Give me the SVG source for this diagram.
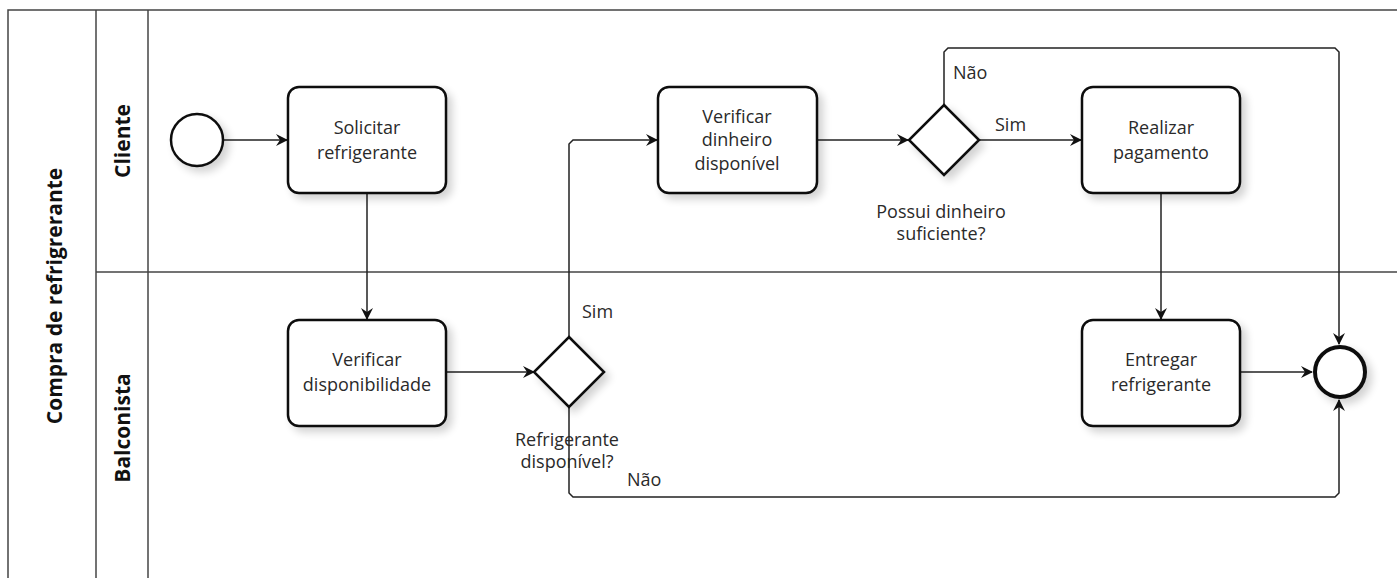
<svg xmlns="http://www.w3.org/2000/svg" width="1397" height="578" viewBox="0 0 1397 578">
<style>
.lane{fill:none;stroke:#444;stroke-width:1.5}
.task{fill:#fff;stroke:#111;stroke-width:2.5}
.gw{fill:#fff;stroke:#111;stroke-width:2.5}
.t{font-family:"Open Sans","Noto Sans",sans-serif;font-size:18px;fill:#2a2a2a;text-anchor:middle}
.lbl{font-family:"Open Sans","Noto Sans",sans-serif;font-size:18px;fill:#2a2a2a}
.h{font-family:"Open Sans","Noto Sans",sans-serif;font-size:21px;font-weight:bold;fill:#111;text-anchor:middle}
.flow{fill:none;stroke:#222;stroke-width:1.5}
</style>
<defs>
<marker id="arr" markerWidth="12" markerHeight="12" refX="11" refY="6" orient="auto" markerUnits="userSpaceOnUse">
<path d="M0,0 L12,6 L0,12 L4,6 z" fill="#111"/>
</marker>
<filter id="sh" x="-20%" y="-20%" width="150%" height="150%">
<feGaussianBlur in="SourceAlpha" stdDeviation="4"/>
<feOffset dx="5" dy="5"/>
<feComponentTransfer><feFuncA type="linear" slope="0.18"/></feComponentTransfer>
<feMerge><feMergeNode/><feMergeNode in="SourceGraphic"/></feMerge>
</filter>
</defs>
<rect width="1397" height="578" fill="#fff"/>
<g id="pool">
<rect class="lane" x="8" y="10" width="1400" height="580"/>
<line class="lane" x1="96" y1="10" x2="96" y2="578"/>
<line class="lane" x1="148" y1="10" x2="148" y2="578"/>
<line class="lane" x1="96" y1="272" x2="1397" y2="272"/>
<text class="h" transform="translate(62,296) rotate(-90)">Compra de refrigrerante</text>
</g>
<g id="lane-cliente"><text class="h" transform="translate(130,141) rotate(-90)">Cliente</text></g>
<g id="lane-balconista"><text class="h" transform="translate(130,428) rotate(-90)">Balconista</text></g>
<g id="connectors">
<path class="flow" d="M224,140 L287,140" marker-end="url(#arr)"/>
<path class="flow" d="M367,193 L367,319" marker-end="url(#arr)"/>
<path class="flow" d="M447,372 L534,372" marker-end="url(#arr)"/>
<path class="flow" d="M569,337 L569,144 L573,140 L657,140" marker-end="url(#arr)"/>
<path class="flow" d="M569,407 L569,493 L573,497 L1335,497 L1339,493 L1339,400" marker-end="url(#arr)"/>
<path class="flow" d="M817,140 L908,140" marker-end="url(#arr)"/>
<path class="flow" d="M980,140 L1081,140" marker-end="url(#arr)"/>
<path class="flow" d="M944,105 L944,52 L948,48 L1335,48 L1339,52 L1339,344" marker-end="url(#arr)"/>
<path class="flow" d="M1161,193 L1161,319" marker-end="url(#arr)"/>
<path class="flow" d="M1240,372 L1312,372" marker-end="url(#arr)"/>
<text class="lbl" x="582" y="318">Sim</text>
<text class="lbl" x="627" y="486">Não</text>
<text class="lbl" x="953" y="79">Não</text>
<text class="lbl" x="995" y="131">Sim</text>
</g>
<g id="start"><circle cx="197" cy="140" r="26" fill="#fff" stroke="#111" stroke-width="2.5" filter="url(#sh)"/></g>
<g id="solicitar"><rect class="task" x="288" y="87" width="158" height="106" rx="11" filter="url(#sh)"/>
<text class="t" x="367" y="134">Solicitar</text><text class="t" x="367" y="159">refrigerante</text></g>
<g id="verificar-disp"><rect class="task" x="288" y="320" width="158" height="106" rx="11" filter="url(#sh)"/>
<text class="t" x="367" y="366">Verificar</text><text class="t" x="367" y="391">disponibilidade</text></g>
<g id="gw1"><polygon class="gw" points="569,337 604,372 569,407 534,372" filter="url(#sh)"/>
<text class="t" x="567" y="446">Refrigerante</text><text class="t" x="567" y="468">disponível?</text></g>
<g id="verificar-dinheiro"><rect class="task" x="658" y="87" width="159" height="106" rx="11" filter="url(#sh)"/>
<text class="t" x="737" y="123">Verificar</text><text class="t" x="737" y="146">dinheiro</text><text class="t" x="737" y="170">disponível</text></g>
<g id="gw2"><polygon class="gw" points="944,105 979,140 944,175 909,140" filter="url(#sh)"/>
<text class="t" x="941" y="218">Possui dinheiro</text><text class="t" x="941" y="240">suficiente?</text></g>
<g id="realizar"><rect class="task" x="1082" y="87" width="158" height="106" rx="11" filter="url(#sh)"/>
<text class="t" x="1161" y="134">Realizar</text><text class="t" x="1161" y="159">pagamento</text></g>
<g id="entregar"><rect class="task" x="1082" y="320" width="158" height="106" rx="11" filter="url(#sh)"/>
<text class="t" x="1161" y="366">Entregar</text><text class="t" x="1161" y="391">refrigerante</text></g>
<g id="end"><circle cx="1340" cy="372" r="25" fill="#fff" stroke="#111" stroke-width="4" filter="url(#sh)"/></g>
</svg>
